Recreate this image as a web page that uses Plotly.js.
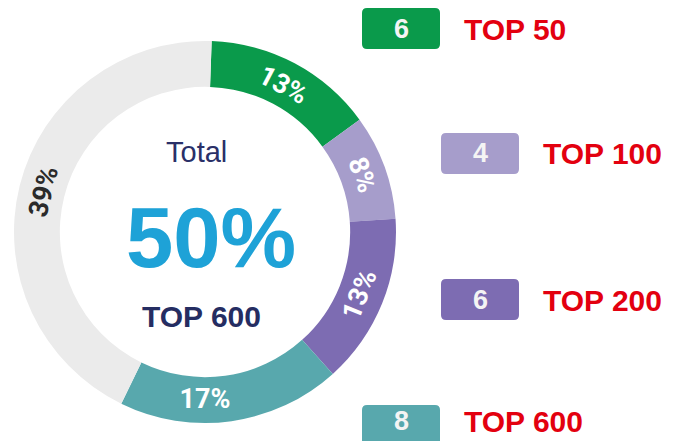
<!DOCTYPE html>
<html>
<head>
<meta charset="utf-8">
<script src="https://cdn.plot.ly/plotly-3.0.1.min.js"></script>
<style>html,body{margin:0;padding:0;background:#fff;}#chart{width:677px;height:441px;}</style>
</head>
<body>
<div id="chart"></div>
<script>
// ---- data ----
const segments = ["TOP 50", "TOP 100", "TOP 200", "TOP 600", "Other"];
const shares = [13, 8, 13, 17, 39];
const shareLabels = ["13%", "8%", "13%", "17%", "39%"];
const legendLabels = ["TOP 50", "TOP 100", "TOP 200", "TOP 600"];
const legendCounts = [6, 4, 6, 8];
const centerTitle = "Total";
const centerValue = "50%";
const centerSub = "TOP 600";

// ---- styles ----
const sliceColors = ["#0a9a4b", "#a69dcb", "#7d6cb2", "#58a8ad", "#ebebeb"];
const textColors = ["#ffffff", "#ffffff", "#ffffff", "#ffffff", "#2b2b2b"];
const W = 677, H = 441;
const cx = 205, cy = 232, R = 191;

// legend box layout (pixel positions)
const boxX = [362, 441, 441, 362];
const boxY = [8, 133, 279, 405];
const textY = [29, 153, 300, 421];
const boxW = 78, boxH = 41;

function roundRect(x0, y0, x1, y1, r) {
  return `M ${x0 + r} ${y0} L ${x1 - r} ${y0} Q ${x1} ${y0} ${x1} ${y0 + r} ` +
         `L ${x1} ${y1 - r} Q ${x1} ${y1} ${x1 - r} ${y1} L ${x0 + r} ${y1} ` +
         `Q ${x0} ${y1} ${x0} ${y1 - r} L ${x0} ${y0 + r} Q ${x0} ${y0} ${x0 + r} ${y0} Z`;
}

const shapes = [];
const annotations = [];
legendLabels.forEach((lab, i) => {
  const x0 = boxX[i], y0 = boxY[i];
  shapes.push({
    type: "path", xref: "x", yref: "y",
    path: roundRect(x0, y0, x0 + boxW, y0 + boxH, 5),
    fillcolor: sliceColors[i], line: {width: 0}
  });
  annotations.push({
    xref: "x", yref: "y", x: x0 + boxW / 2, y: textY[i],
    text: String(legendCounts[i]), showarrow: false,
    font: {family: "Liberation Sans, Arial", size: 27, color: "#f4f4f4", weight: "bold"},
    xanchor: "center", yanchor: "middle"
  });
  annotations.push({
    xref: "x", yref: "y", x: x0 + boxW + 22, y: textY[i],
    text: lab, showarrow: false,
    font: {family: "Liberation Sans, Arial", size: 30, color: "#e3000f", weight: "bold"},
    xanchor: "left", yanchor: "middle"
  });
});

annotations.push({
  xref: "x", yref: "y", x: 196, y: 152, text: centerTitle, showarrow: false,
  font: {family: "Liberation Sans, Arial", size: 29, color: "#2a3068"},
  xanchor: "center", yanchor: "middle"
});
annotations.push({
  xref: "x", yref: "y", x: 211, y: 237, text: centerValue, showarrow: false,
  font: {family: "Liberation Sans, Arial", size: 85, color: "#1ea2d7", weight: "bold"},
  xanchor: "center", yanchor: "middle"
});
annotations.push({
  xref: "x", yref: "y", x: 201, y: 316, text: centerSub, showarrow: false,
  font: {family: "Liberation Sans, Arial", size: 30, color: "#252d62", weight: "bold"},
  xanchor: "center", yanchor: "middle"
});

const trace = {
  type: "pie",
  labels: segments,
  values: shares,
  text: shareLabels,
  textinfo: "text",
  textposition: "inside",
  insidetextorientation: "tangential",
  insidetextfont: {family: "Roboto", size: 27, color: textColors, weight: "bold", style: "normal"},
  marker: {colors: sliceColors, line: {width: 0}},
  hole: 0.76,
  sort: false,
  direction: "clockwise",
  rotation: 2,
  showlegend: false,
  hoverinfo: "skip",
  domain: {x: [(cx - R) / W, (cx + R) / W], y: [(H - cy - R) / H, (H - cy + R) / H]}
};

const layout = {
  width: W, height: H,
  margin: {l: 0, r: 0, t: 0, b: 0},
  paper_bgcolor: "#ffffff", plot_bgcolor: "rgba(0,0,0,0)",
  xaxis: {range: [0, W], visible: false, fixedrange: true},
  yaxis: {range: [H, 0], visible: false, fixedrange: true},
  shapes: shapes,
  annotations: annotations,
  showlegend: false
};

Plotly.newPlot("chart", [trace], layout, {displayModeBar: false, staticPlot: true});
</script>
</body>
</html>
